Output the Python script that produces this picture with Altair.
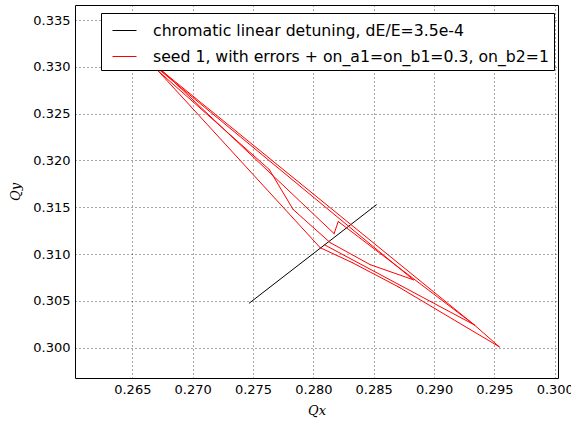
import altair as alt
import pandas as pd

# ---- data ----
series_names = [
    "chromatic linear detuning, dE/E=3.5e-4",
    "seed 1, with errors + on_a1=on_b1=0.3, on_b2=1",
]
series_colors = ["#000000", "#ff0000"]

black_qx = [0.27469, 0.28522]
black_qy = [0.30475, 0.31526]

red_qx = [0.26470, 0.28056, 0.28322, 0.28703, 0.29541, 0.29333, 0.28206, 0.28172,
          0.26514, 0.26464, 0.27634, 0.27833, 0.28139, 0.28471, 0.28828, 0.26456,
          0.26482, 0.29333, 0.28090]
red_qy = [0.33300, 0.31068, 0.30908, 0.30650, 0.30008, 0.30243, 0.31347, 0.31218,
          0.33243, 0.33243, 0.31904, 0.31475, 0.31122, 0.30886, 0.30725, 0.33254,
          0.33233, 0.30243, 0.31100]

x_ticks = [0.265, 0.270, 0.275, 0.280, 0.285, 0.290, 0.295, 0.300]
y_ticks = [0.300, 0.305, 0.310, 0.315, 0.320, 0.325, 0.330, 0.335]
x_domain = [0.26025, 0.30027]
y_domain = [0.29675, 0.33661]


def segments(xs, ys, name):
    return pd.DataFrame({
        "qx": xs[:-1], "qy": ys[:-1], "qx2": xs[1:], "qy2": ys[1:],
        "series": name,
    })


seg_df = pd.concat([segments(black_qx, black_qy, series_names[0]),
                    segments(red_qx, red_qy, series_names[1])], ignore_index=True)

FONT = "DejaVu Sans"

x_enc = alt.X("qx:Q",
              scale=alt.Scale(domain=x_domain, nice=False, zero=False),
              axis=alt.Axis(values=x_ticks, format=".3f", title="Qx",
                            titleFont="DejaVu Serif", titleFontStyle="italic",
                            titleFontWeight="normal", titleFontSize=13,
                            titlePadding=8, labelPadding=5))
y_enc = alt.Y("qy:Q",
              scale=alt.Scale(domain=y_domain, nice=False, zero=False),
              axis=alt.Axis(values=y_ticks, format=".3f", title="Qy",
                            titleFont="DejaVu Serif", titleFontStyle="italic",
                            titleFontWeight="normal", titleFontSize=13,
                            titlePadding=10, labelPadding=5))

chart = alt.Chart(seg_df).mark_rule(strokeWidth=1, strokeCap="round").encode(
    x=x_enc, y=y_enc, x2="qx2:Q", y2="qy2:Q",
    color=alt.Color(
        "series:N",
        scale=alt.Scale(domain=series_names, range=series_colors),
        legend=alt.Legend(title=None, orient="none", legendX=26, legendY=8,
                          fillColor="white", strokeColor="black",
                          padding=5, rowPadding=5,
                          symbolType="stroke", symbolSize=576, symbolOffset=6,
                          symbolStrokeWidth=1, symbolOpacity=1, labelOffset=16,
                          labelFont=FONT, labelFontSize=15.7,
                          labelColor="black", labelLimit=1000)),
).properties(
    width=483, height=373,
    autosize=alt.AutoSizeParams(type="none"),
    padding={"left": 75, "top": 5, "right": 13, "bottom": 43},
    background="white",
).configure_view(
    stroke="black", strokeWidth=1
).configure_axis(
    labelFont=FONT, labelFontSize=13, labelColor="black",
    titleColor="black", domain=False, ticks=False,
    grid=True, gridColor="#000000", gridOpacity=0.7, gridDash=[1, 3], gridWidth=1,
)

chart.save("out.html", embed_options={"renderer": "svg", "actions": False})
